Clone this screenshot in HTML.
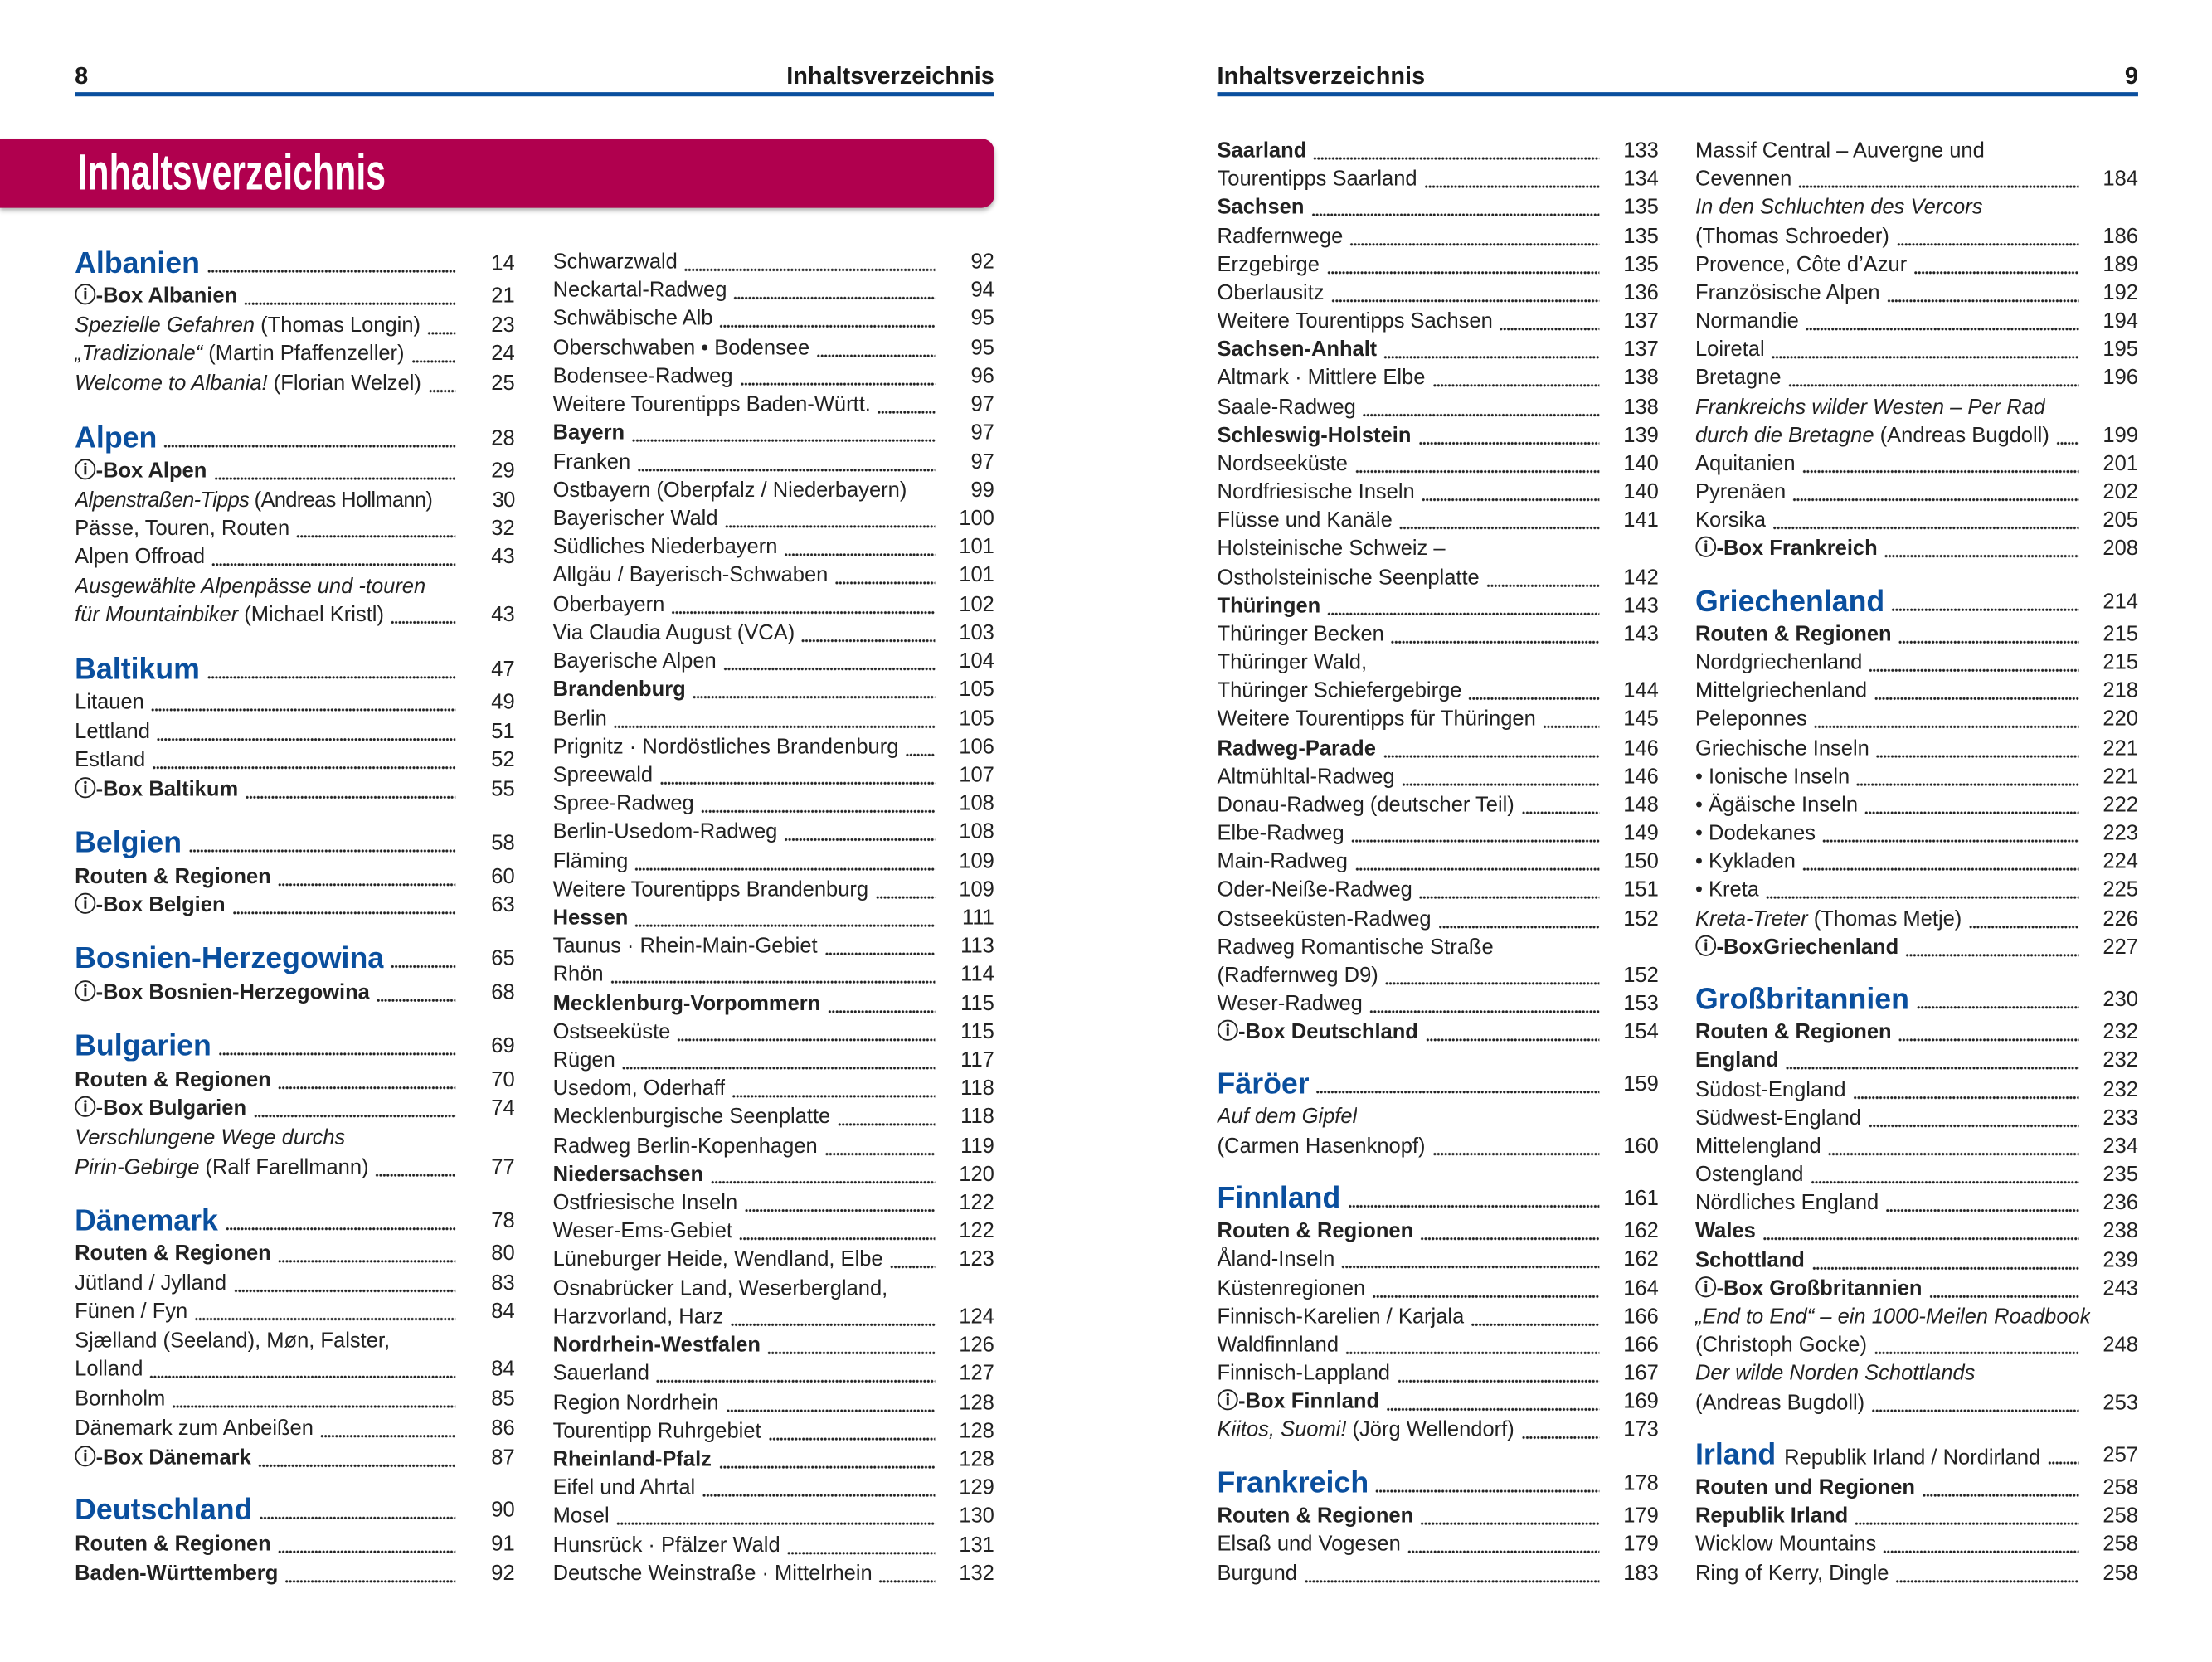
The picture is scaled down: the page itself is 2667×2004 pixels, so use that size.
<!DOCTYPE html>
<html><head><meta charset="utf-8">
<style>
html,body{margin:0;padding:0;background:#fff;}
body{width:2667px;height:2000px;overflow:hidden;position:relative;}
#pg{position:absolute;left:0;top:4px;width:1568px;height:1176px;transform:scale(1.7005,1.7005);transform-origin:0 0;font-family:"Liberation Sans",sans-serif;color:#222;}
.col{position:absolute;top:0;}
.r{position:absolute;left:0;height:20px;line-height:20px;display:flex;font-size:15px;white-space:nowrap;}
.r .t{white-space:nowrap;overflow:hidden;flex:0 1 auto;}
.r i{flex:1 1 auto;min-width:4px;margin:0 4px 0 5px;height:2px;align-self:flex-start;margin-top:14px;background:radial-gradient(circle,#222 0.8px,transparent 1.05px) 0 0/2.6px 2px repeat-x;}
.r .n{flex:0 0 38px;text-align:right;}
.r.nd i{background:none;}
.h .t{color:#0a4f9e;font-weight:bold;font-size:21px;}
.b .t{font-weight:bold;}
em{font-style:italic;}
.hdr{position:absolute;font-weight:bold;font-size:17px;top:42px;color:#1a1a1a;}
.line{position:absolute;top:63px;height:3px;background:#0a4f9e;}
.bar{position:absolute;left:0;top:96px;width:705px;height:49px;background:#b0004e;border-radius:0 9px 9px 0;box-shadow:0 2px 3px rgba(0,0,0,0.3);}
.bar span{position:absolute;left:55px;top:4px;color:#fff;font-weight:bold;font-size:36px;line-height:40px;display:inline-block;transform:scaleX(0.7);transform-origin:0 0;white-space:nowrap;}
</style></head><body><div id="pg">
<div class="hdr" style="left:53px">8</div>
<div class="hdr" style="left:400px;width:305px;text-align:right">Inhaltsverzeichnis</div>
<div class="line" style="left:53px;width:652px"></div>
<div class="hdr" style="left:863px">Inhaltsverzeichnis</div>
<div class="hdr" style="left:1300px;width:216px;text-align:right">9</div>
<div class="line" style="left:863px;width:653px"></div>
<div class="bar"><span>Inhaltsverzeichnis</span></div>

<!-- left column -->
<div class="col" style="left:53px;width:312px">
<div class="r h" style="top:175px;width:312px"><span class="t">Albanien</span><i></i><span class="n">14</span></div>
<div class="r b" style="top:198px;width:312px"><span class="t">ⓘ-Box Albanien</span><i></i><span class="n">21</span></div>
<div class="r" style="top:219px;width:312px"><span class="t"><em>Spezielle Gefahren</em> (Thomas Longin)</span><i></i><span class="n">23</span></div>
<div class="r" style="top:239px;width:312px"><span class="t"><em>„Tradizionale“</em> (Martin Pfaffenzeller)</span><i></i><span class="n">24</span></div>
<div class="r" style="top:260px;width:312px"><span class="t"><em>Welcome to Albania!</em> (Florian Welzel)</span><i></i><span class="n">25</span></div>
<div class="r h" style="top:299px;width:312px"><span class="t">Alpen</span><i></i><span class="n">28</span></div>
<div class="r b" style="top:322px;width:312px"><span class="t">ⓘ-Box Alpen</span><i></i><span class="n">29</span></div>
<div class="r nd" style="top:343px;width:312px;letter-spacing:-0.4px"><span class="t"><em>Alpenstraßen-Tipps</em> (Andreas Hollmann)</span><i></i><span class="n">30</span></div>
<div class="r" style="top:363px;width:312px"><span class="t">Pässe, Touren, Routen</span><i></i><span class="n">32</span></div>
<div class="r" style="top:383px;width:312px"><span class="t">Alpen Offroad</span><i></i><span class="n">43</span></div>
<div class="r nd" style="top:404px;width:312px"><span class="t"><em>Ausgewählte Alpenpässe und -touren</em></span></div>
<div class="r" style="top:424px;width:312px"><span class="t"><em>für Mountainbiker</em> (Michael Kristl)</span><i></i><span class="n">43</span></div>
<div class="r h" style="top:463px;width:312px"><span class="t">Baltikum</span><i></i><span class="n">47</span></div>
<div class="r" style="top:486px;width:312px"><span class="t">Litauen</span><i></i><span class="n">49</span></div>
<div class="r" style="top:507px;width:312px"><span class="t">Lettland</span><i></i><span class="n">51</span></div>
<div class="r" style="top:527px;width:312px"><span class="t">Estland</span><i></i><span class="n">52</span></div>
<div class="r b" style="top:548px;width:312px"><span class="t">ⓘ-Box Baltikum</span><i></i><span class="n">55</span></div>
<div class="r h" style="top:586px;width:312px"><span class="t">Belgien</span><i></i><span class="n">58</span></div>
<div class="r b" style="top:610px;width:312px"><span class="t">Routen &amp; Regionen</span><i></i><span class="n">60</span></div>
<div class="r b" style="top:630px;width:312px"><span class="t">ⓘ-Box Belgien</span><i></i><span class="n">63</span></div>
<div class="r h" style="top:668px;width:312px"><span class="t">Bosnien-Herzegowina</span><i></i><span class="n">65</span></div>
<div class="r b" style="top:692px;width:312px"><span class="t">ⓘ-Box Bosnien-Herzegowina</span><i></i><span class="n">68</span></div>
<div class="r h" style="top:730px;width:312px"><span class="t">Bulgarien</span><i></i><span class="n">69</span></div>
<div class="r b" style="top:754px;width:312px"><span class="t">Routen &amp; Regionen</span><i></i><span class="n">70</span></div>
<div class="r b" style="top:774px;width:312px"><span class="t">ⓘ-Box Bulgarien</span><i></i><span class="n">74</span></div>
<div class="r nd" style="top:795px;width:312px"><span class="t"><em>Verschlungene Wege durchs</em></span></div>
<div class="r" style="top:816px;width:312px"><span class="t"><em>Pirin-Gebirge</em> (Ralf Farellmann)</span><i></i><span class="n">77</span></div>
<div class="r h" style="top:854px;width:312px"><span class="t">Dänemark</span><i></i><span class="n">78</span></div>
<div class="r b" style="top:877px;width:312px"><span class="t">Routen &amp; Regionen</span><i></i><span class="n">80</span></div>
<div class="r" style="top:898px;width:312px"><span class="t">Jütland / Jylland</span><i></i><span class="n">83</span></div>
<div class="r" style="top:918px;width:312px"><span class="t">Fünen / Fyn</span><i></i><span class="n">84</span></div>
<div class="r nd" style="top:939px;width:312px"><span class="t">Sjælland (Seeland), Møn, Falster,</span></div>
<div class="r" style="top:959px;width:312px"><span class="t">Lolland</span><i></i><span class="n">84</span></div>
<div class="r" style="top:980px;width:312px"><span class="t">Bornholm</span><i></i><span class="n">85</span></div>
<div class="r" style="top:1001px;width:312px"><span class="t">Dänemark zum Anbeißen</span><i></i><span class="n">86</span></div>
<div class="r b" style="top:1022px;width:312px"><span class="t">ⓘ-Box Dänemark</span><i></i><span class="n">87</span></div>
<div class="r h" style="top:1059px;width:312px"><span class="t">Deutschland</span><i></i><span class="n">90</span></div>
<div class="r b" style="top:1083px;width:312px"><span class="t">Routen &amp; Regionen</span><i></i><span class="n">91</span></div>
<div class="r b" style="top:1104px;width:312px"><span class="t">Baden-Württemberg</span><i></i><span class="n">92</span></div>
</div>

<!-- middle column -->
<div class="col" style="left:392px;width:313px">
<div class="r" style="top:174px;width:313px"><span class="t">Schwarzwald</span><i></i><span class="n">92</span></div>
<div class="r" style="top:194px;width:313px"><span class="t">Neckartal-Radweg</span><i></i><span class="n">94</span></div>
<div class="r" style="top:214px;width:313px"><span class="t">Schwäbische Alb</span><i></i><span class="n">95</span></div>
<div class="r" style="top:235px;width:313px"><span class="t">Oberschwaben • Bodensee</span><i></i><span class="n">95</span></div>
<div class="r" style="top:255px;width:313px"><span class="t">Bodensee-Radweg</span><i></i><span class="n">96</span></div>
<div class="r" style="top:275px;width:313px"><span class="t">Weitere Tourentipps Baden-Württ.</span><i></i><span class="n">97</span></div>
<div class="r b" style="top:295px;width:313px"><span class="t">Bayern</span><i></i><span class="n">97</span></div>
<div class="r" style="top:316px;width:313px"><span class="t">Franken</span><i></i><span class="n">97</span></div>
<div class="r nd" style="top:336px;width:313px"><span class="t">Ostbayern (Oberpfalz / Niederbayern)</span><i></i><span class="n">99</span></div>
<div class="r" style="top:356px;width:313px"><span class="t">Bayerischer Wald</span><i></i><span class="n">100</span></div>
<div class="r" style="top:376px;width:313px"><span class="t">Südliches Niederbayern</span><i></i><span class="n">101</span></div>
<div class="r" style="top:396px;width:313px"><span class="t">Allgäu / Bayerisch-Schwaben</span><i></i><span class="n">101</span></div>
<div class="r" style="top:417px;width:313px"><span class="t">Oberbayern</span><i></i><span class="n">102</span></div>
<div class="r" style="top:437px;width:313px"><span class="t">Via Claudia August (VCA)</span><i></i><span class="n">103</span></div>
<div class="r" style="top:457px;width:313px"><span class="t">Bayerische Alpen</span><i></i><span class="n">104</span></div>
<div class="r b" style="top:477px;width:313px"><span class="t">Brandenburg</span><i></i><span class="n">105</span></div>
<div class="r" style="top:498px;width:313px"><span class="t">Berlin</span><i></i><span class="n">105</span></div>
<div class="r" style="top:518px;width:313px"><span class="t">Prignitz · Nordöstliches Brandenburg</span><i></i><span class="n">106</span></div>
<div class="r" style="top:538px;width:313px"><span class="t">Spreewald</span><i></i><span class="n">107</span></div>
<div class="r" style="top:558px;width:313px"><span class="t">Spree-Radweg</span><i></i><span class="n">108</span></div>
<div class="r" style="top:578px;width:313px"><span class="t">Berlin-Usedom-Radweg</span><i></i><span class="n">108</span></div>
<div class="r" style="top:599px;width:313px"><span class="t">Fläming</span><i></i><span class="n">109</span></div>
<div class="r" style="top:619px;width:313px"><span class="t">Weitere Tourentipps Brandenburg</span><i></i><span class="n">109</span></div>
<div class="r b" style="top:639px;width:313px"><span class="t">Hessen</span><i></i><span class="n">111</span></div>
<div class="r" style="top:659px;width:313px"><span class="t">Taunus · Rhein-Main-Gebiet</span><i></i><span class="n">113</span></div>
<div class="r" style="top:679px;width:313px"><span class="t">Rhön</span><i></i><span class="n">114</span></div>
<div class="r b" style="top:700px;width:313px"><span class="t">Mecklenburg-Vorpommern</span><i></i><span class="n">115</span></div>
<div class="r" style="top:720px;width:313px"><span class="t">Ostseeküste</span><i></i><span class="n">115</span></div>
<div class="r" style="top:740px;width:313px"><span class="t">Rügen</span><i></i><span class="n">117</span></div>
<div class="r" style="top:760px;width:313px"><span class="t">Usedom, Oderhaff</span><i></i><span class="n">118</span></div>
<div class="r" style="top:780px;width:313px"><span class="t">Mecklenburgische Seenplatte</span><i></i><span class="n">118</span></div>
<div class="r" style="top:801px;width:313px"><span class="t">Radweg Berlin-Kopenhagen</span><i></i><span class="n">119</span></div>
<div class="r b" style="top:821px;width:313px"><span class="t">Niedersachsen</span><i></i><span class="n">120</span></div>
<div class="r" style="top:841px;width:313px"><span class="t">Ostfriesische Inseln</span><i></i><span class="n">122</span></div>
<div class="r" style="top:861px;width:313px"><span class="t">Weser-Ems-Gebiet</span><i></i><span class="n">122</span></div>
<div class="r" style="top:881px;width:313px"><span class="t">Lüneburger Heide, Wendland, Elbe</span><i></i><span class="n">123</span></div>
<div class="r nd" style="top:902px;width:313px"><span class="t">Osnabrücker Land, Weserbergland,</span></div>
<div class="r" style="top:922px;width:313px"><span class="t">Harzvorland, Harz</span><i></i><span class="n">124</span></div>
<div class="r b" style="top:942px;width:313px"><span class="t">Nordrhein-Westfalen</span><i></i><span class="n">126</span></div>
<div class="r" style="top:962px;width:313px"><span class="t">Sauerland</span><i></i><span class="n">127</span></div>
<div class="r" style="top:983px;width:313px"><span class="t">Region Nordrhein</span><i></i><span class="n">128</span></div>
<div class="r" style="top:1003px;width:313px"><span class="t">Tourentipp Ruhrgebiet</span><i></i><span class="n">128</span></div>
<div class="r b" style="top:1023px;width:313px"><span class="t">Rheinland-Pfalz</span><i></i><span class="n">128</span></div>
<div class="r" style="top:1043px;width:313px"><span class="t">Eifel und Ahrtal</span><i></i><span class="n">129</span></div>
<div class="r" style="top:1063px;width:313px"><span class="t">Mosel</span><i></i><span class="n">130</span></div>
<div class="r" style="top:1084px;width:313px"><span class="t">Hunsrück · Pfälzer Wald</span><i></i><span class="n">131</span></div>
<div class="r" style="top:1104px;width:313px"><span class="t">Deutsche Weinstraße · Mittelrhein</span><i></i><span class="n">132</span></div>
</div>

<!-- right page col 1 -->
<div class="col" style="left:863px;width:313px">
<div class="r b" style="top:95px;width:313px"><span class="t">Saarland</span><i></i><span class="n">133</span></div>
<div class="r" style="top:115px;width:313px"><span class="t">Tourentipps Saarland</span><i></i><span class="n">134</span></div>
<div class="r b" style="top:135px;width:313px"><span class="t">Sachsen</span><i></i><span class="n">135</span></div>
<div class="r" style="top:156px;width:313px"><span class="t">Radfernwege</span><i></i><span class="n">135</span></div>
<div class="r" style="top:176px;width:313px"><span class="t">Erzgebirge</span><i></i><span class="n">135</span></div>
<div class="r" style="top:196px;width:313px"><span class="t">Oberlausitz</span><i></i><span class="n">136</span></div>
<div class="r" style="top:216px;width:313px"><span class="t">Weitere Tourentipps Sachsen</span><i></i><span class="n">137</span></div>
<div class="r b" style="top:236px;width:313px"><span class="t">Sachsen-Anhalt</span><i></i><span class="n">137</span></div>
<div class="r" style="top:256px;width:313px"><span class="t">Altmark · Mittlere Elbe</span><i></i><span class="n">138</span></div>
<div class="r" style="top:277px;width:313px"><span class="t">Saale-Radweg</span><i></i><span class="n">138</span></div>
<div class="r b" style="top:297px;width:313px"><span class="t">Schleswig-Holstein</span><i></i><span class="n">139</span></div>
<div class="r" style="top:317px;width:313px"><span class="t">Nordseeküste</span><i></i><span class="n">140</span></div>
<div class="r" style="top:337px;width:313px"><span class="t">Nordfriesische Inseln</span><i></i><span class="n">140</span></div>
<div class="r" style="top:357px;width:313px"><span class="t">Flüsse und Kanäle</span><i></i><span class="n">141</span></div>
<div class="r nd" style="top:377px;width:313px"><span class="t">Holsteinische Schweiz –</span></div>
<div class="r" style="top:398px;width:313px"><span class="t">Ostholsteinische Seenplatte</span><i></i><span class="n">142</span></div>
<div class="r b" style="top:418px;width:313px"><span class="t">Thüringen</span><i></i><span class="n">143</span></div>
<div class="r" style="top:438px;width:313px"><span class="t">Thüringer Becken</span><i></i><span class="n">143</span></div>
<div class="r nd" style="top:458px;width:313px"><span class="t">Thüringer Wald,</span></div>
<div class="r" style="top:478px;width:313px"><span class="t">Thüringer Schiefergebirge</span><i></i><span class="n">144</span></div>
<div class="r" style="top:498px;width:313px"><span class="t">Weitere Tourentipps für Thüringen</span><i></i><span class="n">145</span></div>
<div class="r b" style="top:519px;width:313px"><span class="t">Radweg-Parade</span><i></i><span class="n">146</span></div>
<div class="r" style="top:539px;width:313px"><span class="t">Altmühltal-Radweg</span><i></i><span class="n">146</span></div>
<div class="r" style="top:559px;width:313px"><span class="t">Donau-Radweg (deutscher Teil)</span><i></i><span class="n">148</span></div>
<div class="r" style="top:579px;width:313px"><span class="t">Elbe-Radweg</span><i></i><span class="n">149</span></div>
<div class="r" style="top:599px;width:313px"><span class="t">Main-Radweg</span><i></i><span class="n">150</span></div>
<div class="r" style="top:619px;width:313px"><span class="t">Oder-Neiße-Radweg</span><i></i><span class="n">151</span></div>
<div class="r" style="top:640px;width:313px"><span class="t">Ostseeküsten-Radweg</span><i></i><span class="n">152</span></div>
<div class="r nd" style="top:660px;width:313px"><span class="t">Radweg Romantische Straße</span></div>
<div class="r" style="top:680px;width:313px"><span class="t">(Radfernweg D9)</span><i></i><span class="n">152</span></div>
<div class="r" style="top:700px;width:313px"><span class="t">Weser-Radweg</span><i></i><span class="n">153</span></div>
<div class="r b" style="top:720px;width:313px"><span class="t">ⓘ-Box Deutschland</span><i></i><span class="n">154</span></div>
<div class="r h" style="top:757px;width:313px"><span class="t">Färöer</span><i></i><span class="n">159</span></div>
<div class="r nd" style="top:780px;width:313px"><span class="t"><em>Auf dem Gipfel</em></span></div>
<div class="r" style="top:801px;width:313px"><span class="t">(Carmen Hasenknopf)</span><i></i><span class="n">160</span></div>
<div class="r h" style="top:838px;width:313px"><span class="t">Finnland</span><i></i><span class="n">161</span></div>
<div class="r b" style="top:861px;width:313px"><span class="t">Routen &amp; Regionen</span><i></i><span class="n">162</span></div>
<div class="r" style="top:881px;width:313px"><span class="t">Åland-Inseln</span><i></i><span class="n">162</span></div>
<div class="r" style="top:902px;width:313px"><span class="t">Küstenregionen</span><i></i><span class="n">164</span></div>
<div class="r" style="top:922px;width:313px"><span class="t">Finnisch-Karelien / Karjala</span><i></i><span class="n">166</span></div>
<div class="r" style="top:942px;width:313px"><span class="t">Waldfinnland</span><i></i><span class="n">166</span></div>
<div class="r" style="top:962px;width:313px"><span class="t">Finnisch-Lappland</span><i></i><span class="n">167</span></div>
<div class="r b" style="top:982px;width:313px"><span class="t">ⓘ-Box Finnland</span><i></i><span class="n">169</span></div>
<div class="r" style="top:1002px;width:313px"><span class="t"><em>Kiitos, Suomi!</em> (Jörg Wellendorf)</span><i></i><span class="n">173</span></div>
<div class="r h" style="top:1040px;width:313px"><span class="t">Frankreich</span><i></i><span class="n">178</span></div>
<div class="r b" style="top:1063px;width:313px"><span class="t">Routen &amp; Regionen</span><i></i><span class="n">179</span></div>
<div class="r" style="top:1083px;width:313px"><span class="t">Elsaß und Vogesen</span><i></i><span class="n">179</span></div>
<div class="r" style="top:1104px;width:313px"><span class="t">Burgund</span><i></i><span class="n">183</span></div>
</div>

<!-- right page col 2 -->
<div class="col" style="left:1202px;width:314px">
<div class="r nd" style="top:95px;width:314px"><span class="t">Massif Central – Auvergne und</span></div>
<div class="r" style="top:115px;width:314px"><span class="t">Cevennen</span><i></i><span class="n">184</span></div>
<div class="r nd" style="top:135px;width:314px"><span class="t"><em>In den Schluchten des Vercors</em></span></div>
<div class="r" style="top:156px;width:314px"><span class="t">(Thomas Schroeder)</span><i></i><span class="n">186</span></div>
<div class="r" style="top:176px;width:314px"><span class="t">Provence, Côte d’Azur</span><i></i><span class="n">189</span></div>
<div class="r" style="top:196px;width:314px"><span class="t">Französische Alpen</span><i></i><span class="n">192</span></div>
<div class="r" style="top:216px;width:314px"><span class="t">Normandie</span><i></i><span class="n">194</span></div>
<div class="r" style="top:236px;width:314px"><span class="t">Loiretal</span><i></i><span class="n">195</span></div>
<div class="r" style="top:256px;width:314px"><span class="t">Bretagne</span><i></i><span class="n">196</span></div>
<div class="r nd" style="top:277px;width:314px"><span class="t"><em>Frankreichs wilder Westen – Per Rad</em></span></div>
<div class="r" style="top:297px;width:314px"><span class="t"><em>durch die Bretagne</em> (Andreas Bugdoll)</span><i></i><span class="n">199</span></div>
<div class="r" style="top:317px;width:314px"><span class="t">Aquitanien</span><i></i><span class="n">201</span></div>
<div class="r" style="top:337px;width:314px"><span class="t">Pyrenäen</span><i></i><span class="n">202</span></div>
<div class="r" style="top:357px;width:314px"><span class="t">Korsika</span><i></i><span class="n">205</span></div>
<div class="r b" style="top:377px;width:314px"><span class="t">ⓘ-Box Frankreich</span><i></i><span class="n">208</span></div>
<div class="r h" style="top:415px;width:314px"><span class="t">Griechenland</span><i></i><span class="n">214</span></div>
<div class="r b" style="top:438px;width:314px"><span class="t">Routen &amp; Regionen</span><i></i><span class="n">215</span></div>
<div class="r" style="top:458px;width:314px"><span class="t">Nordgriechenland</span><i></i><span class="n">215</span></div>
<div class="r" style="top:478px;width:314px"><span class="t">Mittelgriechenland</span><i></i><span class="n">218</span></div>
<div class="r" style="top:498px;width:314px"><span class="t">Peleponnes</span><i></i><span class="n">220</span></div>
<div class="r" style="top:519px;width:314px"><span class="t">Griechische Inseln</span><i></i><span class="n">221</span></div>
<div class="r" style="top:539px;width:314px"><span class="t">• Ionische Inseln</span><i></i><span class="n">221</span></div>
<div class="r" style="top:559px;width:314px"><span class="t">• Ägäische Inseln</span><i></i><span class="n">222</span></div>
<div class="r" style="top:579px;width:314px"><span class="t">• Dodekanes</span><i></i><span class="n">223</span></div>
<div class="r" style="top:599px;width:314px"><span class="t">• Kykladen</span><i></i><span class="n">224</span></div>
<div class="r" style="top:619px;width:314px"><span class="t">• Kreta</span><i></i><span class="n">225</span></div>
<div class="r" style="top:640px;width:314px"><span class="t"><em>Kreta-Treter</em> (Thomas Metje)</span><i></i><span class="n">226</span></div>
<div class="r b" style="top:660px;width:314px"><span class="t">ⓘ-BoxGriechenland</span><i></i><span class="n">227</span></div>
<div class="r h" style="top:697px;width:314px"><span class="t">Großbritannien</span><i></i><span class="n">230</span></div>
<div class="r b" style="top:720px;width:314px"><span class="t">Routen &amp; Regionen</span><i></i><span class="n">232</span></div>
<div class="r b" style="top:740px;width:314px"><span class="t">England</span><i></i><span class="n">232</span></div>
<div class="r" style="top:761px;width:314px"><span class="t">Südost-England</span><i></i><span class="n">232</span></div>
<div class="r" style="top:781px;width:314px"><span class="t">Südwest-England</span><i></i><span class="n">233</span></div>
<div class="r" style="top:801px;width:314px"><span class="t">Mittelengland</span><i></i><span class="n">234</span></div>
<div class="r" style="top:821px;width:314px"><span class="t">Ostengland</span><i></i><span class="n">235</span></div>
<div class="r" style="top:841px;width:314px"><span class="t">Nördliches England</span><i></i><span class="n">236</span></div>
<div class="r b" style="top:861px;width:314px"><span class="t">Wales</span><i></i><span class="n">238</span></div>
<div class="r b" style="top:882px;width:314px"><span class="t">Schottland</span><i></i><span class="n">239</span></div>
<div class="r b" style="top:902px;width:314px"><span class="t">ⓘ-Box Großbritannien</span><i></i><span class="n">243</span></div>
<div class="r nd" style="top:922px;width:314px"><span class="t"><em>„End to End“ – ein 1000-Meilen Roadbook</em></span></div>
<div class="r" style="top:942px;width:314px"><span class="t">(Christoph Gocke)</span><i></i><span class="n">248</span></div>
<div class="r nd" style="top:962px;width:314px"><span class="t"><em>Der wilde Norden Schottlands</em></span></div>
<div class="r" style="top:983px;width:314px"><span class="t">(Andreas Bugdoll)</span><i></i><span class="n">253</span></div>
<div class="r h" style="top:1020px;width:314px"><span class="t">Irland <span style="color:#222;font-weight:normal;font-size:15px">Republik Irland / Nordirland</span></span><i></i><span class="n" style="color:#222">257</span></div>
<div class="r b" style="top:1043px;width:314px"><span class="t">Routen und Regionen</span><i></i><span class="n">258</span></div>
<div class="r b" style="top:1063px;width:314px"><span class="t">Republik Irland</span><i></i><span class="n">258</span></div>
<div class="r" style="top:1083px;width:314px"><span class="t">Wicklow Mountains</span><i></i><span class="n">258</span></div>
<div class="r" style="top:1104px;width:314px"><span class="t">Ring of Kerry, Dingle</span><i></i><span class="n">258</span></div>
</div>
</div></body></html>
